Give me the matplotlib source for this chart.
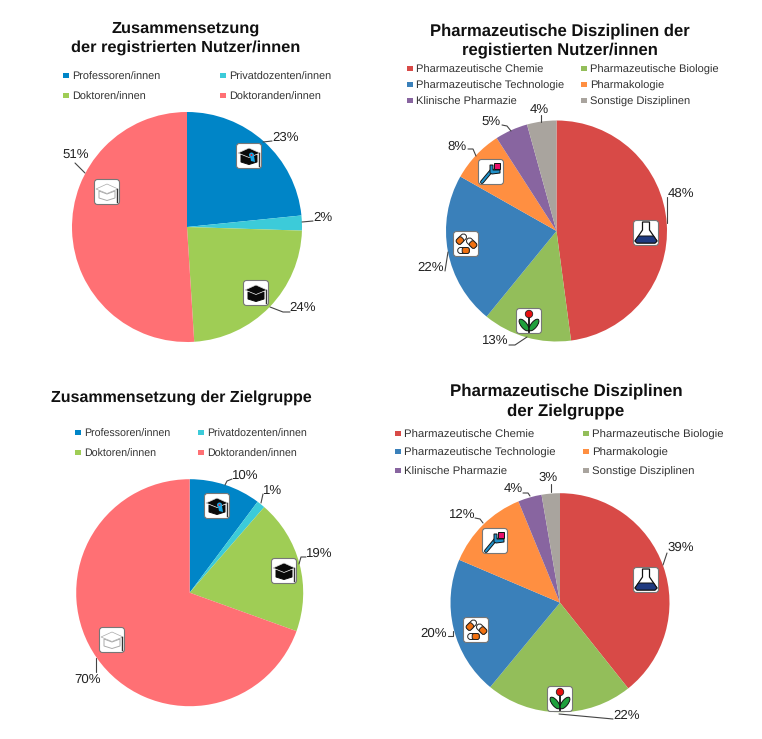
import math
import matplotlib
matplotlib.use("Agg")
import matplotlib.pyplot as plt
from matplotlib.patches import FancyBboxPatch, Rectangle, Circle, Polygon, Ellipse

plt.rcParams['font.family'] = ['Liberation Sans', 'DejaVu Sans']
plt.rcParams['text.hinting'] = 'no_hinting'

W, H = 762, 739

group_labels = ["Professoren/innen", "Privatdozenten/innen", "Doktoren/innen", "Doktoranden/innen"]
group_colors = ["#0085C7", "#3CCBD9", "#9FCD55", "#FF7074"]
registered_group = [23.4, 2.1, 23.5, 51.0]
target_group = [10.2, 1.2, 19.1, 69.5]

disc_labels = ["Pharmazeutische Chemie", "Pharmazeutische Biologie", "Pharmazeutische Technologie",
               "Pharmakologie", "Klinische Pharmazie", "Sonstige Disziplinen"]
disc_colors = ["#D84A47", "#93BE5A", "#3A80BA", "#FF8F41", "#8865A0", "#A9A49E"]
registered_disc = [47.9, 13.0, 22.3, 7.7, 4.8, 4.3]
target_disc = [39.3, 21.7, 20.4, 12.4, 3.5, 2.7]

titles = [["Zusammensetzung", "der registrierten Nutzer/innen"],
          ["Pharmazeutische Disziplinen der", "registierten Nutzer/innen"],
          ["Zusammensetzung der Zielgruppe"],
          ["Pharmazeutische Disziplinen", "der Zielgruppe"]]

fig = plt.figure(figsize=(W / 100, H / 100), dpi=100, facecolor="white")


def pie(values, colors, cx, cy, r):
    ax = fig.add_axes([(cx - r) / W, 1 - (cy + r) / H, 2 * r / W, 2 * r / H])
    ax.pie(values, colors=colors, startangle=90, counterclock=False, radius=1,
           wedgeprops=dict(linewidth=0))
    ax.set_xlim(-1, 1)
    ax.set_ylim(-1, 1)
    ax.set_axis_off()


pie(registered_group, group_colors, 187, 227, 115)
pie(registered_disc, disc_colors, 556.5, 231, 110.5)
pie(target_group, group_colors, 189.7, 592.7, 113.5)
pie(target_disc, disc_colors, 560, 602.7, 109.5)

ov = fig.add_axes([0, 0, 1, 1], zorder=5)
ov.set_xlim(0, W)
ov.set_ylim(H, 0)
ov.set_axis_off()
ov.patch.set_alpha(0)

# titles: lines, x centre, y of each line, size
title_layout = [(185.5, [29, 48], 11.75), (559.5, [31, 50], 11.95), (181, [398], 11.5), (566, [391, 411], 12.15)]
for lines, (x, ys, size) in zip(titles, title_layout):
    for line, y in zip(lines, ys):
        ov.text(x, y, line, ha="center", va="center", fontsize=size, fontweight="bold", color="#111111")


def legend(labels, colors, rows, size):
    for i, (lab, col) in enumerate(zip(labels, colors)):
        mx, my = rows[i]
        ov.add_patch(Rectangle((mx - 2.7, my - 3.2), 5.4, 5.4, fc=col, ec="none"))
        ov.text(mx + 6, my + 1.3, lab, ha="left", va="center", fontsize=size, color="#333333")


legend(group_labels, group_colors, [(66, 76), (223, 76), (66, 96), (223, 96)], 7.8)
legend(disc_labels, disc_colors, [(410, 69), (584, 69), (410, 85), (584, 85), (410, 101), (584, 101)], 8.0)
legend(group_labels, group_colors, [(78, 433), (201, 433), (78, 453), (201, 453)], 7.7)
legend(disc_labels, disc_colors, [(398, 434), (586, 434), (398, 452), (586, 452), (398, 471), (586, 471)], 8.2)


def labels(values, xy):
    for v, (x, y) in zip(values, xy):
        ov.text(x, y + 1, f"{v:.0f}%", ha="center", va="center", fontsize=9.5, color="#222222")


labels(registered_group, [(286, 137), (323, 217), (303, 307), (76, 154)])
labels(registered_disc, [(681, 193), (495, 340), (431, 267), (457, 146), (491, 121), (539, 109)])
labels(target_group, [(245, 475), (273, 490), (319, 553), (88, 679)])
labels(target_disc, [(681, 547), (627, 715), (434, 633), (462, 514), (513, 488), (548, 477)])

leaders = [
    [(263, 142), (272, 141)], [(302, 222), (313, 221)], [(270, 307), (283, 312), (290, 312)], [(85, 173), (75, 163)],
    [(667, 223), (667, 197)], [(509, 345), (515, 345), (527, 337)], [(448, 252), (445, 271)],
    [(468, 149), (473, 149), (476, 156)], [(502, 125), (507, 126), (511, 131)], [(541, 115), (541, 122)],
    [(225, 485), (227, 481), (232, 479)], [(261, 503), (263, 494)], [(299, 564), (301, 557), (306, 557)],
    [(96, 658), (96, 672)],
    [(663, 565), (667, 553)], [(559, 714), (613, 719)], [(448, 636), (453, 636), (453, 631)],
    [(475, 518), (480, 519), (483, 523)], [(523, 493), (528, 493), (530, 496)], [(551, 484), (551, 492)],
]
for pts in leaders:
    ov.plot([p[0] for p in pts], [p[1] for p in pts], color="#444444", lw=0.8, solid_capstyle="round")


def box(x, y, s=25):
    ov.add_patch(FancyBboxPatch((x - s / 2 + 2, y - s / 2 + 2), s - 4, s - 4,
                                boxstyle="round,pad=2,rounding_size=3", fc="white", ec="#777777", lw=0.8, zorder=6))


def cap(x, y, fill="#0A0A0A", edge="#0A0A0A", ribbon=False):
    box(x, y)
    ov.add_patch(Polygon([(x - 8, y - 1), (x, y + 2), (x + 8, y - 1), (x + 8, y + 6), (x, y + 8.5), (x - 8, y + 6)],
                         closed=True, fc=fill, ec=edge, lw=0.7, zorder=7))
    ov.add_patch(Polygon([(x - 11, y - 3), (x, y - 8), (x + 11, y - 3), (x, y + 1.5)], closed=True,
                         fc=fill, ec=edge if fill != "#0A0A0A" else "#DDDDDD", lw=0.5, zorder=8))
    ov.plot([x + 10, x + 10], [y - 3, y + 10], color="#333333", lw=1.0, zorder=8)
    if ribbon:
        ov.add_patch(Polygon([(x + 1, y), (x + 5, y), (x + 6, y + 6), (x + 2, y + 5)], closed=True,
                             fc="#18A8E8", ec="none", zorder=9))
        ov.add_patch(Circle((x + 2.5, y - 1), 2.5, fc="#18A8E8", ec="none", zorder=9))
        ov.add_patch(Circle((x + 2.5, y - 1), 1.0, fc="#E82030", ec="none", zorder=10))


def flask(x, y):
    box(x, y)
    ov.add_patch(Polygon([(x - 3.5, y - 11), (x + 3.5, y - 11), (x + 3.5, y - 3), (x + 11, y + 8), (x + 9, y + 10),
                          (x - 9, y + 10), (x - 11, y + 8), (x - 3.5, y - 3)],
                         closed=True, fc="white", ec="#111111", lw=0.9, zorder=7))
    ov.add_patch(Polygon([(x - 7.5, y + 3), (x + 7.5, y + 3), (x + 11, y + 8), (x + 9, y + 10), (x - 9, y + 10), (x - 11, y + 8)],
                         closed=True, fc="#1F3A80", ec="#111111", lw=0.7, zorder=8))


def flower(x, y):
    box(x, y)
    ov.plot([x, x], [y - 4, y + 10.5], color="#111111", lw=1.3, zorder=7)
    ov.add_patch(Ellipse((x - 5, y + 4), 14, 6, angle=52, fc="#1FA03C", ec="#111111", lw=0.7, zorder=7))
    ov.add_patch(Ellipse((x + 5, y + 4), 14, 6, angle=-52, fc="#1FA03C", ec="#111111", lw=0.7, zorder=7))
    ov.add_patch(Circle((x, y - 7), 3.7, fc="#E81010", ec="#222222", lw=0.6, zorder=8))


def capsule(x, y, angle):
    a = math.radians(angle)
    ov.add_patch(FancyBboxPatch((-4, -1.2), 8, 2.4, boxstyle="round,pad=1.8,rounding_size=3",
                                fc="white", ec="#222222", lw=0.7, zorder=7,
                                transform=matplotlib.transforms.Affine2D().rotate(a).translate(x, y) + ov.transData))
    ov.add_patch(FancyBboxPatch((0.5, -1.2), 3.5, 2.4, boxstyle="round,pad=1.8,rounding_size=2",
                                fc="#F07010", ec="#222222", lw=0.7, zorder=8,
                                transform=matplotlib.transforms.Affine2D().rotate(a).translate(x, y) + ov.transData))


def pills(x, y):
    box(x, y)
    capsule(x - 4.5, y - 5, 135)
    capsule(x + 5.5, y - 1, 45)
    capsule(x - 2.5, y + 6.5, 0)


def tool(x, y):
    box(x, y)
    ov.plot([x - 9, x + 1], [y + 10, y - 2], color="#111111", lw=2.8, zorder=7, solid_capstyle="round")
    ov.plot([x - 9, x + 1], [y + 10, y - 2], color="#2090C8", lw=1.5, zorder=8, solid_capstyle="round")
    ov.add_patch(Polygon([(x - 1, y - 7), (x + 2, y - 7), (x + 2, y - 2), (x + 9, y - 2), (x + 9, y + 1), (x + 1, y + 2), (x - 1, y + 1)],
                         closed=True, fc="#2090C8", ec="#111111", lw=0.7, zorder=8))
    ov.add_patch(Rectangle((x + 2.5, y - 9.5), 6.5, 6.5, fc="#E8106A", ec="#111111", lw=0.7, zorder=9))


cap(249, 156, ribbon=True)
cap(256, 293)
cap(107, 192, fill="white", edge="#AAAAAA")
flask(646, 233)
flower(529, 321)
pills(466, 244)
tool(491, 172)
cap(217, 506, ribbon=True)
cap(284, 571)
cap(112, 640, fill="white", edge="#AAAAAA")
flask(646, 580)
flower(560, 699)
pills(476, 630)
tool(495, 541)

fig.savefig("out.png", dpi=100, facecolor="white")
